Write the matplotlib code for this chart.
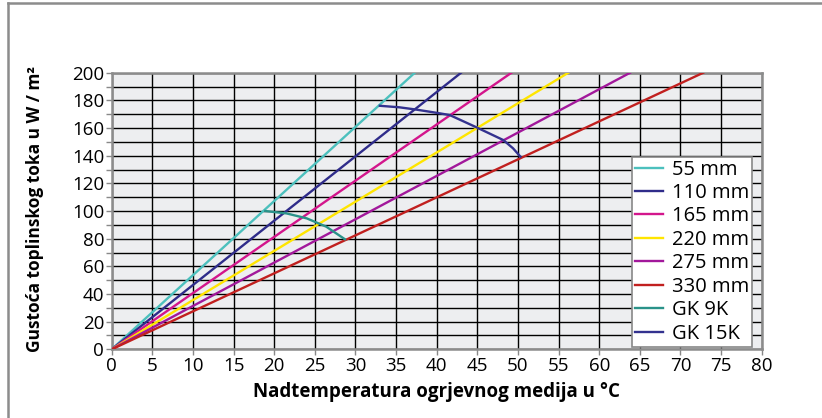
import matplotlib.pyplot as plt
from matplotlib.lines import Line2D

# pipe thickness series: temperature at which the line reaches 200 W/m2
labels = ["55 mm", "110 mm", "165 mm", "220 mm", "275 mm", "330 mm"]
x_end = [37.3, 43.0, 49.2, 56.2, 63.8, 72.8]
y_end = [200, 200, 200, 200, 200, 200]
colors = ["#4cc0bd", "#2f2c8a", "#d3168c", "#ffe500", "#a2189b", "#c1201f"]

# limit curves
gk9_x = [18.9, 21.5, 24.0, 26.4, 28.7]
gk9_y = [100.0, 98.3, 94.7, 88.7, 79.6]
gk15_x = [33.0, 35.4, 37.3, 40.0, 41.6, 44.9, 48.2, 49.4, 50.3]
gk15_y = [176.1, 175.0, 173.5, 171.0, 169.4, 160.5, 151.3, 145.3, 139.3]

plt.rcParams['font.family'] = ['Open Sans', 'DejaVu Sans']

fig = plt.figure(figsize=(8.22, 4.18), dpi=100)
ax = fig.add_axes([0.1359, 0.1643, 0.7908, 0.6617])
ax.set_facecolor("#edeef0")

for lab, xe, ye, c in zip(labels, x_end, y_end, colors):
    ax.plot([0, xe], [0, ye], color=c, lw=1.7, label=lab, zorder=3)
ax.plot(gk9_x, gk9_y, color="#2a9289", lw=1.7, label="GK 9K", zorder=3)
ax.plot(gk15_x, gk15_y, color="#33328f", lw=1.7, label="GK 15K", zorder=3)

ax.set_xlim(0, 80)
ax.set_ylim(0, 200)
ax.set_xticks(range(0, 81, 5))
ax.set_yticks(range(0, 201, 20))
ax.set_yticks(range(0, 201, 10), minor=True)
ax.grid(True, which='both', axis='y', color='black', lw=1.0, zorder=1)
ax.grid(True, which='major', axis='x', color='black', lw=1.0, zorder=1)
ax.tick_params(axis='both', which='both', direction='out', length=4, width=1,
               color='#888888', labelsize=13.5, pad=1.5)
for s in ax.spines.values():
    s.set_color('#8c8c8c')
    s.set_linewidth(1.8)

xl = ax.set_xlabel("Nadtemperatura ogrjevnog medija u °C", fontweight='bold', fontsize=13.5)
xl.set_va('center')
ax.xaxis.set_label_coords(0.5, -0.153)
yl = ax.set_ylabel("Gustoća toplinskog toka u W / m²", fontweight='bold', fontsize=12.5)
yl.set_va('center')
ax.yaxis.set_label_coords(-0.118, 0.508)

leg = ax.legend(loc='lower right', bbox_to_anchor=(0.995, -0.012), fontsize=14.5,
                handlelength=1.4, handletextpad=0.45, labelspacing=0.17,
                borderpad=0.15, borderaxespad=0.3, fancybox=False, framealpha=1,
                edgecolor='#888888')
leg.get_frame().set_linewidth(1.2)

# partial frame around the figure (left and top)
fig.add_artist(Line2D([0.0097, 0.0097], [0.0, 0.993], color='#8c8c8c', lw=1.8))
fig.add_artist(Line2D([0.0097, 1.0], [0.993, 0.993], color='#8c8c8c', lw=1.8))

fig.savefig("out.png", dpi=100)
